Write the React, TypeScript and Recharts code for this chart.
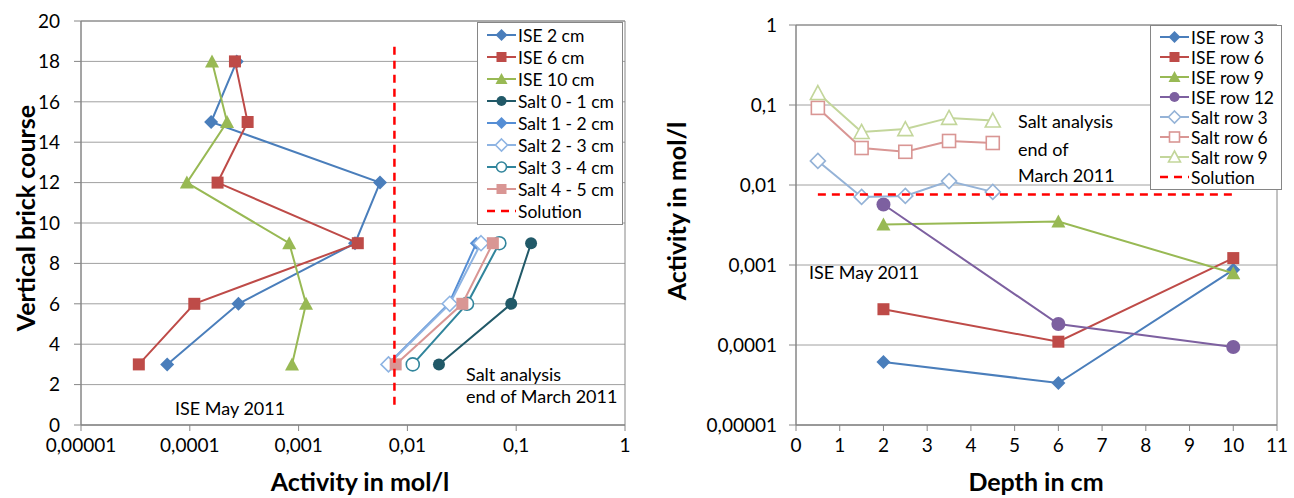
import { CartesianGrid, Legend, ReferenceArea, Scatter, ScatterChart, XAxis, YAxis } from "recharts"

// tick values
const LOG_TICKS = [0.00001, 0.0001, 0.001, 0.01, 0.1, 1]
const COURSE_TICKS = [0, 2, 4, 6, 8, 10, 12, 14, 16, 18, 20]
const DEPTH_TICKS = [0, 1, 2, 3, 4, 5, 6, 7, 8, 9, 10, 11]

// left chart: activity per brick course
const COURSES = [18, 15, 12, 9, 6, 3]
const ISE_2CM = [0.00027, 0.000157, 0.0056, 0.0033, 0.00028, 0.000062]
const ISE_6CM = [0.00026, 0.00034, 0.00018, 0.0035, 0.00011, 0.000034]
const ISE_10CM = [0.00016, 0.00022, 0.000094, 0.00082, 0.00117, 0.00087]
const SALT_COURSES = [9, 6, 3]
const SALT_0_1 = [0.137, 0.09, 0.0195]
const SALT_1_2 = [0.043, 0.024, 0.0066]
const SALT_2_3 = [0.0475, 0.0245, 0.0067]
const SALT_3_4 = [0.07, 0.0353, 0.0112]
const SALT_4_5 = [0.061, 0.032, 0.0078]
const SOLUTION = 0.0076
const SOLUTION_COURSES = [1, 19]

// right chart: activity per depth
const ISE_DEPTHS = [2, 6, 10]
const ISE_ROW3 = [0.0000615, 0.0000335, 0.00087]
const ISE_ROW6 = [0.00028, 0.00011, 0.00122]
const ISE_ROW9 = [0.0032, 0.0035, 0.00079]
const ISE_ROW12 = [0.0057, 0.000183, 0.0000944]
const SALT_DEPTHS = [0.5, 1.5, 2.5, 3.5, 4.5]
const SALT_ROW3 = [0.02, 0.0071, 0.0073, 0.0112, 0.0082]
const SALT_ROW6 = [0.092, 0.029, 0.026, 0.0355, 0.0335]
const SALT_ROW9 = [0.141, 0.046, 0.05, 0.069, 0.064]
const SOLUTION_DEPTHS = [0.5, 10]

type Kind = "diamond" | "square" | "triangle" | "circle" | "none"

interface SeriesDef {
  name: string
  color: string
  kind: Kind
  open?: boolean
  size?: number
  dashed?: boolean
  points: { x: number; y: number }[]
}

const pts = (xs: number[], ys: number[]) => xs.map((x, i) => ({ x, y: ys[i] }))

const leftSeries: SeriesDef[] = [
  { name: "ISE 2 cm", color: "#4A7EBB", kind: "diamond", points: pts(ISE_2CM, COURSES) },
  { name: "ISE 6 cm", color: "#BE4B48", kind: "square", points: pts(ISE_6CM, COURSES) },
  { name: "ISE 10 cm", color: "#98B954", kind: "triangle", points: pts(ISE_10CM, COURSES) },
  { name: "Salt 0 - 1 cm", color: "#215968", kind: "circle", points: pts(SALT_0_1, SALT_COURSES) },
  { name: "Salt 1 - 2 cm", color: "#558ED5", kind: "diamond", size: 11, points: pts(SALT_1_2, SALT_COURSES) },
  { name: "Salt 2 - 3 cm", color: "#8EB4E3", kind: "diamond", open: true, points: pts(SALT_2_3, SALT_COURSES) },
  { name: "Salt 3 - 4 cm", color: "#31859C", kind: "circle", open: true, points: pts(SALT_3_4, SALT_COURSES) },
  { name: "Salt 4 - 5 cm", color: "#D99694", kind: "square", points: pts(SALT_4_5, SALT_COURSES) },
  {
    name: "Solution",
    color: "#FF0000",
    kind: "none",
    dashed: true,
    points: SOLUTION_COURSES.map((y) => ({ x: SOLUTION, y })),
  },
]

const rightSeries: SeriesDef[] = [
  { name: "ISE row 3", color: "#4A7EBB", kind: "diamond", points: pts(ISE_DEPTHS, ISE_ROW3) },
  { name: "ISE row 6", color: "#BE4B48", kind: "square", points: pts(ISE_DEPTHS, ISE_ROW6) },
  { name: "ISE row 9", color: "#98B954", kind: "triangle", points: pts(ISE_DEPTHS, ISE_ROW9) },
  { name: "ISE row 12", color: "#7D60A0", kind: "circle", size: 14, points: pts(ISE_DEPTHS, ISE_ROW12) },
  { name: "Salt row 3", color: "#95B3D7", kind: "diamond", open: true, points: pts(SALT_DEPTHS, SALT_ROW3) },
  { name: "Salt row 6", color: "#D99694", kind: "square", open: true, points: pts(SALT_DEPTHS, SALT_ROW6) },
  { name: "Salt row 9", color: "#C3D69B", kind: "triangle", open: true, points: pts(SALT_DEPTHS, SALT_ROW9) },
  {
    name: "Solution",
    color: "#FF0000",
    kind: "none",
    dashed: true,
    points: SOLUTION_DEPTHS.map((x) => ({ x, y: SOLUTION })),
  },
]

const FONT = "Lato, 'Noto Sans', sans-serif"
const AXIS = "#868686"
const GRID = "#A0A0A0"

function Marker({ cx, cy, def }: { cx: number; cy: number; def: SeriesDef }) {
  const s = def.size ?? (def.open ? 13 : 12)
  const h = s / 2
  const fill = def.open ? "#fff" : def.color
  const sw = def.open ? 1.6 : 0
  if (def.kind === "none") return <g />
  if (def.kind === "square")
    return <rect x={cx - h} y={cy - h} width={s} height={s} fill={fill} stroke={def.color} strokeWidth={sw} />
  if (def.kind === "circle") return <circle cx={cx} cy={cy} r={h} fill={fill} stroke={def.color} strokeWidth={sw} />
  if (def.kind === "triangle")
    return (
      <polygon
        points={`${cx},${cy - h - 1} ${cx + h + 1},${cy + h} ${cx - h - 1},${cy + h}`}
        fill={fill}
        stroke={def.color}
        strokeWidth={sw}
      />
    )
  return (
    <polygon
      points={`${cx},${cy - h - 1} ${cx + h + 1},${cy} ${cx},${cy + h + 1} ${cx - h - 1},${cy}`}
      fill={fill}
      stroke={def.color}
      strokeWidth={sw}
    />
  )
}

function LegendBox({ series, rowHeight, fontSize }: { series: SeriesDef[]; rowHeight: number; fontSize: number }) {
  return (
    <div style={{ border: `1px solid ${AXIS}`, background: "#fff", padding: "1px 0 2px 0", fontFamily: FONT }}>
      {series.map((d) => (
        <div key={d.name} style={{ display: "flex", alignItems: "center", height: rowHeight, fontSize, whiteSpace: "nowrap" }}>
          <svg width={40} height={rowHeight} style={{ flex: "none" }}>
            <line
              x1={9}
              x2={38}
              y1={rowHeight / 2}
              y2={rowHeight / 2}
              stroke={d.color}
              strokeWidth={d.dashed ? 2.5 : 2}
              strokeDasharray={d.dashed ? "8 6" : undefined}
            />
            <Marker cx={23.5} cy={rowHeight / 2} def={{ ...d, size: 10 }} />
          </svg>
          <span>{d.name}</span>
        </div>
      ))}
    </div>
  )
}

const fmt = (v: number) => String(v).replace(".", ",")

const tickStyle = { fill: "#000", fontSize: 19, fontFamily: FONT }

function renderSeries(series: SeriesDef[]) {
  return series.map((d) => (
    <Scatter
      key={d.name}
      name={d.name}
      data={d.points}
      fill={d.color}
      isAnimationActive={false}
      line={{
        stroke: d.color,
        strokeWidth: d.dashed ? 2.5 : 2,
        strokeDasharray: d.dashed ? "8 6" : undefined,
      }}
      shape={(p: any) => <Marker cx={p.cx} cy={p.cy} def={d} />}
    />
  ))
}

const titleStyle: React.CSSProperties = {
  position: "absolute",
  fontFamily: FONT,
  fontWeight: 700,
  fontSize: 25,
  lineHeight: 1.1,
  whiteSpace: "nowrap",
  transform: "translate(-50%, -50%)",
}

const noteStyle: React.CSSProperties = {
  position: "absolute",
  fontFamily: FONT,
  fontSize: 18,
  whiteSpace: "nowrap",
  lineHeight: 1,
}

export default function App() {
  return (
    <div style={{ position: "absolute", left: 0, top: 0, width: 1294, height: 498, background: "#fff", fontFamily: FONT }}>
      <div style={{ position: "absolute", left: 0, top: 0 }}>
        <ScatterChart width={650} height={498} margin={{ top: 21, right: 25, bottom: 33, left: 0 }}>
          <CartesianGrid vertical={false} stroke={GRID} />
          <XAxis
            type="number"
            dataKey="x"
            scale="log"
            domain={[LOG_TICKS[0], LOG_TICKS[LOG_TICKS.length - 1]]}
            ticks={LOG_TICKS}
            tickFormatter={fmt}
            height={40}
            tick={tickStyle}
            tickSize={6}
            tickMargin={8}
            axisLine={{ stroke: AXIS }}
            tickLine={{ stroke: AXIS }}
            allowDataOverflow
          />
          <YAxis
            type="number"
            dataKey="y"
            domain={[COURSE_TICKS[0], COURSE_TICKS[COURSE_TICKS.length - 1]]}
            ticks={COURSE_TICKS}
            width={81}
            tick={tickStyle}
            tickSize={7}
            tickMargin={14}
            axisLine={{ stroke: AXIS }}
            tickLine={{ stroke: AXIS }}
          />
          <ReferenceArea
            x1={LOG_TICKS[0]}
            x2={LOG_TICKS[LOG_TICKS.length - 1]}
            y1={COURSE_TICKS[0]}
            y2={COURSE_TICKS[COURSE_TICKS.length - 1]}
            fill="none"
            stroke={AXIS}
          />
          {renderSeries(leftSeries)}
          <Legend
            layout="vertical"
            align="center"
            verticalAlign="middle"
            wrapperStyle={{ left: 477, top: 22, width: 146 }}
            content={() => <LegendBox series={leftSeries} rowHeight={22} fontSize={17.5} />}
          />
        </ScatterChart>
      </div>

      <div style={{ position: "absolute", left: 660, top: 0 }}>
        <ScatterChart width={634} height={498} margin={{ top: 25, right: 17, bottom: 33, left: 0 }}>
          <CartesianGrid vertical={false} stroke={GRID} />
          <XAxis
            type="number"
            dataKey="x"
            domain={[DEPTH_TICKS[0], DEPTH_TICKS[DEPTH_TICKS.length - 1]]}
            ticks={DEPTH_TICKS}
            height={40}
            tick={tickStyle}
            tickSize={6}
            tickMargin={8}
            axisLine={{ stroke: AXIS }}
            tickLine={{ stroke: AXIS }}
          />
          <YAxis
            type="number"
            dataKey="y"
            scale="log"
            domain={[LOG_TICKS[0], LOG_TICKS[LOG_TICKS.length - 1]]}
            ticks={LOG_TICKS}
            tickFormatter={fmt}
            width={136}
            tick={tickStyle}
            tickSize={7}
            tickMargin={12}
            axisLine={{ stroke: AXIS }}
            tickLine={{ stroke: AXIS }}
            allowDataOverflow
          />
          <ReferenceArea
            x1={DEPTH_TICKS[0]}
            x2={DEPTH_TICKS[DEPTH_TICKS.length - 1]}
            y1={LOG_TICKS[0]}
            y2={LOG_TICKS[LOG_TICKS.length - 1]}
            fill="none"
            stroke={AXIS}
          />
          {renderSeries(rightSeries)}
          <Legend
            layout="vertical"
            align="center"
            verticalAlign="middle"
            wrapperStyle={{ left: 490, top: 25, width: 132 }}
            content={() => <LegendBox series={rightSeries} rowHeight={20} fontSize={17.5} />}
          />
        </ScatterChart>
      </div>

      <div style={{ ...titleStyle, left: 26, top: 218, transform: "translate(-50%, -50%) rotate(-90deg)" }}>
        Vertical brick course
      </div>
      <div style={{ ...titleStyle, left: 360, top: 482 }}>Activity in mol/l</div>
      <div style={{ ...titleStyle, left: 677, top: 211, transform: "translate(-50%, -50%) rotate(-90deg)" }}>
        Activity in mol/l
      </div>
      <div style={{ ...titleStyle, left: 1036, top: 482 }}>Depth in cm</div>

      <div style={{ ...noteStyle, left: 175, top: 399 }}>ISE May 2011</div>
      <div style={{ ...noteStyle, left: 466, top: 365 }}>Salt analysis</div>
      <div style={{ ...noteStyle, left: 466, top: 387 }}>end of March 2011</div>

      <div style={{ ...noteStyle, left: 1018, top: 112 }}>Salt analysis</div>
      <div style={{ ...noteStyle, left: 1018, top: 140 }}>end of</div>
      <div style={{ ...noteStyle, left: 1018, top: 166 }}>March 2011</div>
      <div style={{ ...noteStyle, left: 809, top: 263 }}>ISE May 2011</div>
    </div>
  )
}
